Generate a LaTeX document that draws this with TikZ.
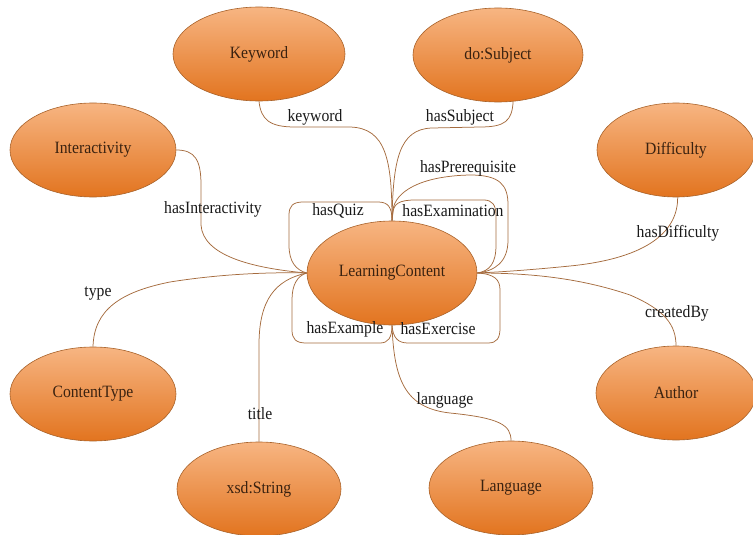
\documentclass[tikz,border=0pt]{standalone}
\usepackage{fontspec}
\usepackage{graphicx}
\setmainfont{Liberation Serif}
\usetikzlibrary{shapes.geometric}
\definecolor{edgec}{HTML}{A56B3E}
\definecolor{nodeb}{HTML}{A8622A}
\definecolor{ftop}{HTML}{F7B582}
\definecolor{fbot}{HTML}{E2741F}
\definecolor{ntext}{HTML}{3A2210}
\newcommand{\tx}[1]{\scalebox{1}[1.1]{#1}}
\tikzset{
  ent/.style={ellipse, draw=nodeb, line width=0.6pt, top color=ftop, bottom color=fbot,
    inner sep=0pt, text=ntext, font=\fontsize{15.7}{18}\selectfont},
  lab/.style={inner sep=0pt, text=black!90, font=\fontsize{15.7}{18}\selectfont},
  rel/.style={draw=edgec, line width=0.75pt}
}
\begin{document}
\begin{tikzpicture}[x=1pt,y=-1pt]
\useasboundingbox (0,0) rectangle (753,535);
% entities
\node[ent, minimum width=172pt, minimum height=94pt] (kw) at (259,54) {\tx{Keyword}};
\node[ent, minimum width=170pt, minimum height=94pt] (ds) at (498,55) {\tx{do:Subject}};
\node[ent, minimum width=166pt, minimum height=94pt] (ia) at (93,150) {\tx{Interactivity}};
\node[ent, minimum width=158pt, minimum height=94pt] (df) at (676,150) {\tx{Difficulty}};
\node[ent, minimum width=170pt, minimum height=104pt] (lc) at (392,273) {\tx{LearningContent}};
\node[ent, minimum width=166pt, minimum height=94pt] (ct) at (93,394) {\tx{ContentType}};
\node[ent, minimum width=160pt, minimum height=94pt] (au) at (676,393) {\tx{Author}};
\node[ent, minimum width=164pt, minimum height=94pt] (xs) at (259,489) {\tx{xsd:String}};
\node[ent, minimum width=164pt, minimum height=94pt] (lg) at (511,488) {\tx{Language}};
% relations
\begin{scope}[on background layer/.try]
\end{scope}
\draw[rel] (kw.south) .. controls (261,120) and (270,127) .. (295,127) -- (350,127)
  .. controls (386,128) and (392,160) .. (lc.north);
\draw[rel] (ds.-72) .. controls (512,121) and (505,127) .. (480,127) -- (432,128)
  .. controls (399,129) and (393,160) .. (lc.north);
\draw[rel] (lc.north) -- (393,210) .. controls (395,192) and (420,176) .. (470,175)
  .. controls (500,175) and (508,185) .. (508,205) -- (508,240)
  .. controls (508,262) and (495,271) .. (lc.east);
\draw[rel] (lc.north) -- (393,212) .. controls (394,204) and (399,200) .. (415,200) -- (484,200)
  .. controls (492,200) and (496,205) .. (496,215) -- (496,245)
  .. controls (496,263) and (490,271) .. (lc.east);
\draw[rel] (lc.west) .. controls (296,270) and (289,262) .. (289,245) -- (289,215)
  .. controls (289,206) and (293,202) .. (303,202) -- (378,202)
  .. controls (388,202) and (392,207) .. (lc.north);
\draw[rel] (lc.west) .. controls (297,276) and (292,285) .. (292,300) -- (292,330)
  .. controls (292,339) and (296,343) .. (306,343) -- (380,343)
  .. controls (388,343) and (392,338) .. (lc.south);
\draw[rel] (lc.south) .. controls (393,338) and (398,343) .. (408,343) -- (488,343)
  .. controls (497,343) and (500,338) .. (500,328) -- (500,290)
  .. controls (500,280) and (495,274) .. (lc.east);
\draw[rel] (ia.east) .. controls (195,150) and (201,160) .. (201,185) -- (201,225)
  .. controls (203,255) and (250,268) .. (lc.west);
\draw[rel] (ct.north) .. controls (94,310) and (120,292) .. (170,282)
  .. controls (220,274) and (270,272) .. (lc.west);
\draw[rel] (xs.north) -- (259,345) .. controls (259,300) and (275,280) .. (lc.west);
\draw[rel] (lc.south) .. controls (394,380) and (405,408) .. (450,413)
  .. controls (500,418) and (511,425) .. (lg.north);
\draw[rel] (df.-88) .. controls (678,230) and (650,258) .. (570,266)
  .. controls (530,270) and (500,272) .. (lc.east);
\draw[rel] (lc.east) .. controls (530,273) and (580,278) .. (630,295)
  .. controls (665,310) and (676,325) .. (au.north);
% labels
\node[lab] (l1) at (315,117) {\tx{keyword}};
\node[lab] (l2) at (460,117) {\tx{hasSubject}};
\node[lab] (l3) at (468,168) {\tx{hasPrerequisite}};
\node[lab] (l4) at (338,211) {\tx{hasQuiz}};
\node[lab] (l5) at (453,211) {\tx{hasExamination}};
\node[lab] (l6) at (213,209) {\tx{hasInteractivity}};
\node[lab] (l7) at (678,233) {\tx{hasDifficulty}};
\node[lab] (l8) at (98,294) {\tx{type}};
\node[lab] (l9) at (677,313) {\tx{createdBy}};
\node[lab] (l10) at (345,329) {\tx{hasExample}};
\node[lab] (l11) at (438,329) {\tx{hasExercise}};
\node[lab] (l12) at (445,400) {\tx{language}};
\node[lab] (l13) at (260,414) {\tx{title}};
\end{tikzpicture}
\end{document}
